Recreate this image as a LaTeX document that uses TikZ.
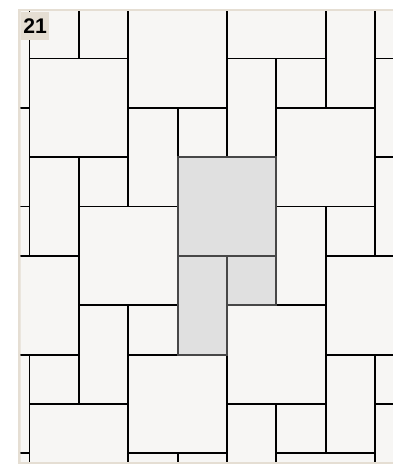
\documentclass[tikz,border=0pt]{standalone}
\usepackage{fontspec}
\newfontfamily\tagfont{Liberation Sans}
\definecolor{panelbg}{RGB}{247, 246, 244}
\definecolor{framebeige}{RGB}{229, 222, 211}
\definecolor{tilegrey}{RGB}{224, 224, 224}

\begin{document}
\begin{tikzpicture}[
    tile/.style={draw=black, line width=1.1pt, fill=panelbg},
    marked/.style={draw=black!72, line width=1.1pt, fill=tilegrey}
  ]
  % canvas, frame and panel
  \useasboundingbox (-0.598,-8.217) rectangle (7.345,1.185);
  \fill[white] (-0.598,-8.217) rectangle (7.345,1.185);
  \fill[framebeige] (-0.227,-8.4) rectangle (7.6,0.997);
  \fill[panelbg] (-0.178,-8.170) rectangle (7.6,0.948);

  \begin{scope}
    \clip (-0.178,-8.170) rectangle (7.6,0.948);
    % one unit = big square, tall tile below-left, small square below-right
    \foreach \a in {-3,...,5}{
      \foreach \b in {-4,...,5}{
        \pgfmathtruncatemacro{\c}{\a+2*\b}
        \pgfmathtruncatemacro{\y}{\b-3*\a}
        \draw[tile] (\c,\y) rectangle ++(2,-2);
        \draw[tile] (\c,\y-2) rectangle ++(1,-2);
        \draw[tile] (\c+1,\y-2) rectangle ++(1,-1);
      }
    }
    % highlighted unit
    \draw[marked] (3,-2) rectangle ++(2,-2);
    \draw[marked] (3,-4) rectangle ++(1,-2);
    \draw[marked] (4,-4) rectangle ++(1,-1);
  \end{scope}

  % number tag
  \node[fill=framebeige, inner sep=0pt, minimum width=0.573cm,
        minimum height=0.573cm, anchor=north west,
        font=\tagfont\bfseries\fontsize{12.2}{13}\selectfont]
        (tag) at (-0.178,0.948) {21};
\end{tikzpicture}
\end{document}
